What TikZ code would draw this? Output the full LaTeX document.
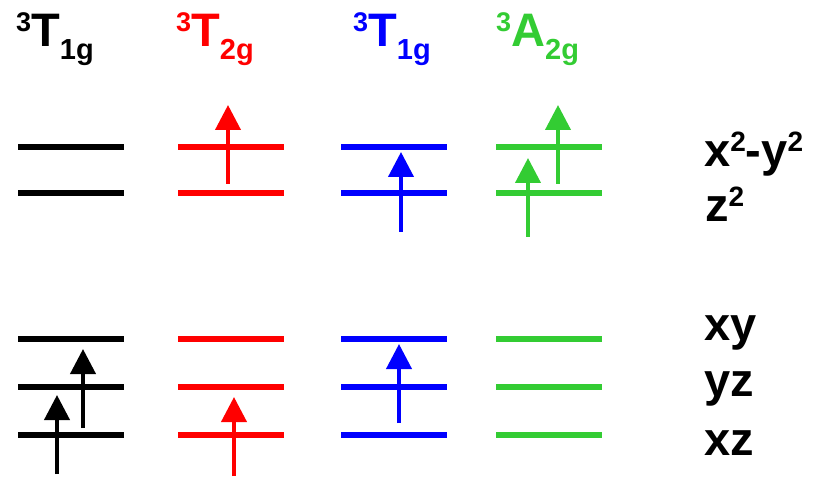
\documentclass[tikz,border=0pt]{standalone}
\usepackage{fontspec}
\setmainfont{Liberation Sans}
\usepackage{xcolor}
\usepackage{tikz}
\usetikzlibrary{arrows.meta}
\definecolor{lvlred}{HTML}{FF0000}
\definecolor{lvlblue}{HTML}{0000FF}
\definecolor{lvlgreen}{HTML}{33CC33}
\newcommand{\termsym}[3]{\raisebox{15pt}{\fontsize{27}{27}\selectfont #1}#2\raisebox{-13pt}{\fontsize{29}{29}\selectfont #3}}
\newcommand{\orbsup}[1]{\raisebox{15pt}{\fontsize{28}{28}\selectfont #1}}
\tikzset{
  orbline/.style={line width=6pt, color=#1},
  orbline/.default=black,
  spinarrow/.style={
    -{Triangle[length=25pt,width=25pt]}, line width=4pt, color=#1
  },
  spinarrow/.default=black,
  termlabel/.style={text=#1, anchor=base west, inner sep=0pt,
    font=\fontsize{47}{47}\selectfont\bfseries},
  termlabel/.default=black,
  orblabel/.style={anchor=base west, inner sep=0pt,
    font=\fontsize{47}{47}\selectfont\bfseries},
}
\begin{document}
\begin{tikzpicture}[x=1pt, y=-1pt]
  \useasboundingbox (0,0) rectangle (821,478);
  % term symbols
  \node[termlabel=black] at (16,47) (t1) {\termsym{3}{T}{1g}};
  \node[termlabel=lvlred] at (176,47) (t2) {\termsym{3}{T}{2g}};
  \node[termlabel=lvlblue] at (353,47) (t3) {\termsym{3}{T}{1g}};
  \node[termlabel=lvlgreen] at (496,47) (t4) {\termsym{3}{A}{2g}};
  % d levels
  \foreach \col/\xa/\xb in {black/18/124, lvlred/178/284, lvlblue/341/447, lvlgreen/496/602} {
    \foreach \y in {147,193,339,387,435} { \draw[orbline=\col] (\xa,\y) -- (\xb,\y); }
  }
  % electrons
  \foreach \n/\col/\x/\ya/\yb in {b1/black/57/474/395, b2/black/83/428/349,
      r1/lvlred/228/184/105, r2/lvlred/234/476/397,
      u1/lvlblue/401/232/152, u2/lvlblue/399/423/344,
      g1/lvlgreen/528/237/158, g2/lvlgreen/558/184/105} {
    \coordinate (\n-s) at (\x,\ya);
    \coordinate (\n-e) at (\x,\yb);
    \draw[spinarrow=\col] (\n-s) -- (\n-e);
  }
  % orbital labels
  \node[orblabel] at (704,167) (dx2y2) {x\orbsup{2}-y\orbsup{2}};
  \node[orblabel] at (705,222) (dz2) {z\orbsup{2}};
  \node[orblabel] at (704,340) (dxy) {xy};
  \node[orblabel] at (704,396) (dyz) {yz};
  \node[orblabel] at (704,455) (dxz) {xz};
\end{tikzpicture}
\end{document}
